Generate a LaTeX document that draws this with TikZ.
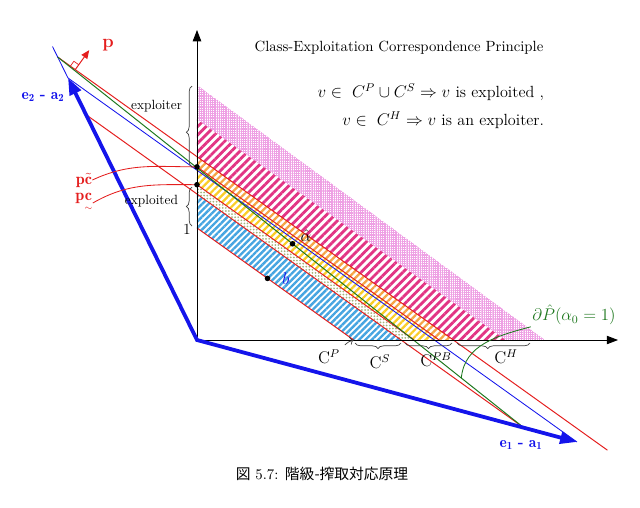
\documentclass[tikz,border=0pt]{standalone}
\usepackage{fontspec}
\usepackage{amsmath}
\usepackage{xcolor}
\usetikzlibrary{calc,arrows.meta,patterns.meta,decorations.pathreplacing}
\newfontfamily\cjk{Noto Sans CJK JP}

\definecolor{priceRed}{RGB}{228,30,30}
\definecolor{budgetBlue}{RGB}{20,20,235}
\definecolor{frontierGreen}{RGB}{30,120,30}
\definecolor{hatchPink}{RGB}{226,52,132}
\definecolor{dotPink}{RGB}{238,160,228}
\definecolor{hatchOrange}{RGB}{245,165,70}
\definecolor{hatchYellow}{RGB}{250,205,40}
\definecolor{dotOlive}{RGB}{165,180,125}
\definecolor{hatchCyan}{RGB}{70,165,225}

\tikzset{
    bullet/.style = {
        circle,
        fill      = black,
        inner sep = 1.4pt,
    },
    priceline/.style = {
        draw       = priceRed,
        line width = 0.7pt,
    },
    vector/.style = {
        draw       = budgetBlue,
        line width = 2.7pt,
        line join  = miter,
        {Triangle[length=12pt,width=8.5pt]}-{Triangle[length=12pt,width=8.5pt]},
    },
    curlybrace/.style = {
        decorate,
        draw       = black!75,
        line width = 0.5pt,
    },
}

\begin{document}
\begin{tikzpicture}[x=0.025cm,y=-0.025cm]
  \useasboundingbox (0,0) rectangle (640,508);

  % Axes and budget vectors
  \coordinate (Origin) at (197,340);
  \coordinate (YTop) at (197,30);
  \coordinate (XEnd) at (618,340);
  \coordinate (TipE2) at (68,78);
  \coordinate (TipE1) at (577,442);
  \coordinate (BlueExt) at ($(Origin)!1.12!(TipE2)$);

  % Price lines, scaled copies of TipE2--TipE1
  \foreach \band/\tfac in {LZero/0.66,RTwo/0.86,RThree/0.915,RFour/1.02,ROne/1.08,PinkOne/1.3} {
    \coordinate (\band Left) at ($(Origin)!\tfac!(TipE2)$);
    \coordinate (\band Right) at ($(Origin)!\tfac!(TipE1)$);
    \coordinate (\band Y) at ($(\band Left)!0.25344!(\band Right)$);
    \coordinate (\band X) at ($(\band Left)!0.71978!(\band Right)$);
  }
  \coordinate (PinkTwoY) at (197,85);
  \coordinate (PinkTwoX) at (545,340);

  % Bands
  \path[pattern={Hatch[distance=1.3pt,line width=0.35pt]},pattern color=dotPink]
    (PinkOneY) -- (PinkOneX) -- (PinkTwoX) -- (PinkTwoY) -- cycle;
  \path[pattern={Lines[angle=45,distance=4.2pt,line width=2pt]},pattern color=hatchPink]
    (ROneY) -- (ROneX) -- (PinkOneX) -- (PinkOneY) -- cycle;
  \path[pattern={Lines[angle=45,distance=3.5pt,line width=1.6pt]},pattern color=hatchOrange]
    (RFourY) -- (RFourX) -- (ROneX) -- (ROneY) -- cycle;
  \path[pattern={Lines[angle=45,distance=3.5pt,line width=1.6pt]},pattern color=hatchYellow]
    (RThreeY) -- (RThreeX) -- (RFourX) -- (RFourY) -- cycle;
  \path[pattern={Dots[distance=2.2pt,radius=0.7pt]},pattern color=dotOlive]
    (RTwoY) -- (RTwoX) -- (RThreeX) -- (RThreeY) -- cycle;
  \path[pattern={Lines[angle=45,distance=3.2pt,line width=1.7pt]},pattern color=hatchCyan]
    (LZeroY) -- (LZeroX) -- (RTwoX) -- (RTwoY) -- cycle;

  % Price lines and frontier
  \draw[priceline] (LZeroY) to (LZeroX);
  \draw[priceline] (RThreeY) to (RThreeX);
  \draw[priceline] (RFourY) to (RFourX);
  \draw[priceline] (RTwoLeft) to (RTwoRight);
  \draw[priceline] (ROneLeft) to (ROneRight);
  \draw[draw=budgetBlue,line width=0.6pt] (TipE2) to (TipE1);
  \draw[draw=budgetBlue,line width=0.6pt] (TipE2) to (BlueExt);
  \draw[draw=frontierGreen,line width=0.7pt] (ROneLeft) to (RTwoRight);

  % Axes
  \draw[-{Triangle[length=8pt,width=6pt]},line width=0.6pt] (Origin) to (YTop);
  \draw[-{Triangle[length=8pt,width=6pt]},line width=0.6pt] (Origin) to (XEnd);
  \draw[vector] (TipE2) to (Origin) to (TipE1);

  % Price vector p
  \coordinate (PBase) at ($(ROneLeft)!0.032!(ROneRight)$);
  \coordinate (PTip) at ($(PBase)!0.6cm!90:(ROneRight)$);
  \coordinate (PSqA) at ($(PBase)!0.15cm!(ROneLeft)$);
  \coordinate (PSqB) at ($(PBase)!0.15cm!(PTip)$);
  \draw[-{Triangle[length=6pt,width=5pt]},draw=priceRed,line width=0.7pt] (PBase) to (PTip);
  \draw[draw=priceRed,line width=0.5pt] (PSqA) to ($(PSqA)+(PSqB)-(PBase)$) to (PSqB);
  \node[text=priceRed,font=\fontsize{13}{15}\selectfont\bfseries] (PLabel) at (108,45) {p};

  % Vector labels
  \node[text=budgetBlue,font=\fontsize{11}{13}\selectfont] (E2Label) at (43,97) {$\mathbf{e}_{\mathbf{2}}$ \textbf{-} $\mathbf{a}_{\mathbf{2}}$};
  \node[text=budgetBlue,font=\fontsize{11}{13}\selectfont] (E1Label) at (521,445) {$\mathbf{e}_{\mathbf{1}}$ \textbf{-} $\mathbf{a}_{\mathbf{1}}$};

  % Price levels on the vertical axis
  \node[text=priceRed,inner sep=0pt,font=\fontsize{11.5}{13}\selectfont] (PcTilde) at (84,180) {$\mathbf{p}\tilde{\mathbf{c}}$};
  \node[text=priceRed,inner sep=0pt,font=\fontsize{11.5}{13}\selectfont] (PcUnder) at (84,203) {$\mathbf{p}\underset{\scriptscriptstyle\sim}{\mathbf{c}}$};
  \draw[draw=priceRed,line width=0.6pt] (PcTilde.east) to[out=25,in=180] (RFourY);
  \draw[draw=priceRed,line width=0.6pt] (PcUnder.east) to[out=30,in=180] (RThreeY);

  % Marked points
  \node[bullet] (PcTildeDot) at (RFourY) {};
  \node[bullet] (PcUnderDot) at (RThreeY) {};
  \node[bullet] (AlphaDot) at ($(ROneLeft)!0.5038!(RTwoRight)$) {};
  \node[bullet] (BDot) at ($(LZeroY)!0.45!(LZeroX)$) {};
  \node[font=\fontsize{12}{14}\selectfont] (AlphaLabel) at (306,236) {$\hat{\alpha}$};
  \node[text=budgetBlue,font=\fontsize{12}{14}\selectfont] (BLabel) at (286,279) {$b$};

  % Braces on the vertical axis
  \coordinate (ExploiterLow) at (192,167);
  \coordinate (ExploiterHigh) at (192,86);
  \coordinate (ExploitedLow) at (192,226);
  \coordinate (ExploitedHigh) at (192,187);
  \draw[curlybrace,decoration={brace,amplitude=4pt,aspect=0.43}] (ExploiterLow) to (ExploiterHigh);
  \draw[curlybrace,decoration={brace,amplitude=4pt,aspect=0.5}] (ExploitedLow) to (ExploitedHigh);
  \node[anchor=east,font=\fontsize{9.5}{11}\selectfont] (ExploiterText) at (187,106) {exploiter};
  \node[anchor=east,font=\fontsize{9.5}{11}\selectfont] (ExploitedText) at (183,201) {exploited};
  \node[font=\fontsize{11}{13}\selectfont] (OneText) at (187,229) {1};

  % Braces on the horizontal axis
  \coordinate (CSLeft) at (355,343);
  \coordinate (CSRight) at (401,343);
  \coordinate (CPBLeft) at (405,343);
  \coordinate (CPBRight) at (452,343);
  \coordinate (CHLeft) at (457,343);
  \coordinate (CHRight) at (530,343);
  \draw[curlybrace,decoration={brace,mirror,amplitude=4pt,aspect=0.5}] (CSLeft) to (CSRight);
  \draw[curlybrace,decoration={brace,mirror,amplitude=4pt,aspect=0.5}] (CPBLeft) to (CPBRight);
  \draw[curlybrace,decoration={brace,mirror,amplitude=4pt,aspect=0.42}] (CHLeft) to (CHRight);
  \node[font=\fontsize{12}{14}\selectfont] (CPText) at (329,357) {$\mathrm{C}^{P}$};
  \node[font=\fontsize{12}{14}\selectfont] (CSText) at (380,362) {$\mathrm{C}^{S}$};
  \node[font=\fontsize{12}{14}\selectfont] (CPBText) at (436,360) {$\mathrm{C}^{PB}$};
  \node[font=\fontsize{12}{14}\selectfont] (CHText) at (506,357) {$\mathrm{C}^{H}$};
  \draw[->,draw=black!75,line width=0.5pt] (CPText.north east) to[bend left=15] (LZeroX);

  % Frontier label
  \coordinate (GreenFoot) at ($(ROneLeft)!0.866!(RTwoRight)$);
  \node[text=frontierGreen,inner sep=1pt,font=\fontsize{11.5}{13}\selectfont] (FrontierText) at (574,315) {$\partial\hat{P}(\alpha_{0}=1)$};
  \draw[draw=frontierGreen,line width=0.6pt] (FrontierText.south west) to[out=195,in=85] (GreenFoot);

  % Principle
  \node[font=\fontsize{10.5}{12}\selectfont] (Title) at (399,48) {Class-Exploitation Correspondence Principle};
  \node[anchor=east,font=\fontsize{11.5}{13}\selectfont] (RuleOne) at (549,92) {$v\in\ C^{P}\cup C^{S}\Rightarrow v$ is exploited ,};
  \node[anchor=east,font=\fontsize{11.5}{13}\selectfont] (RuleTwo) at (549,120) {$v\in\ C^{H}\Rightarrow v$ is an exploiter.};

  % Caption
  \node[font=\fontsize{10.5}{12}\selectfont] (Caption) at (322,474) {{\cjk 図} 5.7: {\cjk 階級-搾取対応原理}};
\end{tikzpicture}
\end{document}
